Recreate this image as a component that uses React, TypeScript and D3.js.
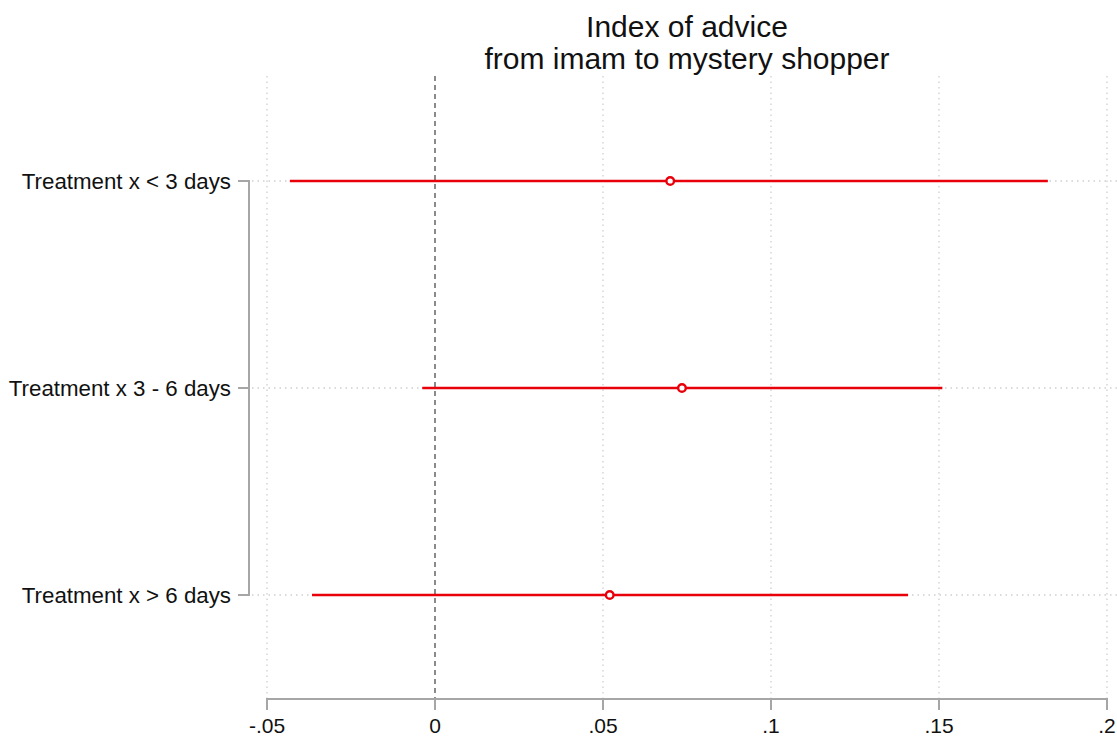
import React, { useEffect, useRef } from "react";
import * as d3 from "d3";

const categories = ["Treatment x < 3 days", "Treatment x 3 - 6 days", "Treatment x > 6 days"];
const estimates = [0.07, 0.0735, 0.052];
const lower = [-0.0432, -0.0038, -0.0366];
const upper = [0.1824, 0.151, 0.1408];
const xTicks = [-0.05, 0, 0.05, 0.1, 0.15, 0.2];
const xTickLabels = ["-.05", "0", ".05", ".1", ".15", ".2"];
const titleLines = ["Index of advice", "from imam to mystery shopper"];

const App = () => {
  const svgRef = useRef<SVGSVGElement>(null);

  useEffect(() => {
    const width = 1117;
    const svg = d3.select(svgRef.current);
    svg.selectAll("*").remove();

    const font = "'Liberation Sans', Arial, sans-serif";
    const red = "#e8000b";
    const gray = "#a6a6a6";
    const ink = "#111111";

    // scales
    const x = d3.scaleLinear().domain([-0.05, 0.2]).range([267, 1107]);
    const y = d3.scalePoint<string>().domain(categories).range([181, 595]);
    const plotTop = 76;
    const plotBottom = 699;

    // vertical grid lines
    svg
      .append("g")
      .selectAll("line")
      .data(xTicks.filter((t) => t !== 0))
      .enter()
      .append("line")
      .attr("x1", (d) => x(d))
      .attr("x2", (d) => x(d))
      .attr("y1", plotTop)
      .attr("y2", plotBottom)
      .attr("stroke", "#cfcfcf")
      .attr("stroke-width", 1.3)
      .attr("stroke-dasharray", "1.5,4");

    // horizontal grid lines
    svg
      .append("g")
      .selectAll("line")
      .data(categories)
      .enter()
      .append("line")
      .attr("x1", 252)
      .attr("x2", width)
      .attr("y1", (d) => y(d)!)
      .attr("y2", (d) => y(d)!)
      .attr("stroke", "#cfcfcf")
      .attr("stroke-width", 1.3)
      .attr("stroke-dasharray", "1.5,4");

    // zero reference line
    svg
      .append("line")
      .attr("x1", x(0))
      .attr("x2", x(0))
      .attr("y1", plotTop)
      .attr("y2", plotBottom)
      .attr("stroke", "#6e6e6e")
      .attr("stroke-width", 1.6)
      .attr("stroke-dasharray", "5,4");

    // x axis
    const xAxis = svg.append("g").attr("transform", `translate(0,${plotBottom})`);
    xAxis
      .append("line")
      .attr("x1", x(-0.05) - 1)
      .attr("x2", x(0.2) + 1)
      .attr("stroke", gray)
      .attr("stroke-width", 2);
    xTicks.forEach((t, i) => {
      xAxis
        .append("line")
        .attr("x1", x(t))
        .attr("x2", x(t))
        .attr("y1", 0)
        .attr("y2", 11)
        .attr("stroke", gray)
        .attr("stroke-width", 2);
      xAxis
        .append("text")
        .attr("x", x(t))
        .attr("y", 34)
        .attr("text-anchor", "middle")
        .style("font-family", font)
        .style("font-size", "21px")
        .attr("fill", ink)
        .text(xTickLabels[i]);
    });

    // y axis
    const yAxis = svg.append("g");
    yAxis
      .append("line")
      .attr("x1", 249)
      .attr("x2", 249)
      .attr("y1", y(categories[0])! - 1)
      .attr("y2", y(categories[categories.length - 1])! + 1)
      .attr("stroke", gray)
      .attr("stroke-width", 2);
    categories.forEach((c) => {
      yAxis
        .append("line")
        .attr("x1", 238)
        .attr("x2", 250)
        .attr("y1", y(c)!)
        .attr("y2", y(c)!)
        .attr("stroke", gray)
        .attr("stroke-width", 2);
      yAxis
        .append("text")
        .attr("x", 231)
        .attr("y", y(c)! + 8)
        .attr("text-anchor", "end")
        .style("font-family", font)
        .style("font-size", "22.3px")
        .attr("fill", ink)
        .text(c);
    });

    // confidence intervals
    svg
      .append("g")
      .selectAll("line")
      .data(categories)
      .enter()
      .append("line")
      .attr("x1", (d, i) => x(lower[i]))
      .attr("x2", (d, i) => x(upper[i]))
      .attr("y1", (d) => y(d)!)
      .attr("y2", (d) => y(d)!)
      .attr("stroke", red)
      .attr("stroke-width", 2.6);

    // point estimates
    svg
      .append("g")
      .selectAll("circle")
      .data(categories)
      .enter()
      .append("circle")
      .attr("cx", (d, i) => x(estimates[i]))
      .attr("cy", (d) => y(d)!)
      .attr("r", 3.8)
      .attr("fill", "white")
      .attr("stroke", red)
      .attr("stroke-width", 2.4);

    // title
    titleLines.forEach((t, i) => {
      svg
        .append("text")
        .attr("x", (x(-0.05) + x(0.2)) / 2)
        .attr("y", 37 + i * 32)
        .attr("text-anchor", "middle")
        .style("font-family", font)
        .style("font-size", "30px")
        .attr("fill", ink)
        .text(t);
    });
  }, []);

  return (
    <svg
      ref={svgRef}
      width={1117}
      height={738}
      style={{ position: "absolute", left: 0, top: 0, background: "white" }}
    ></svg>
  );
};

export default App;
